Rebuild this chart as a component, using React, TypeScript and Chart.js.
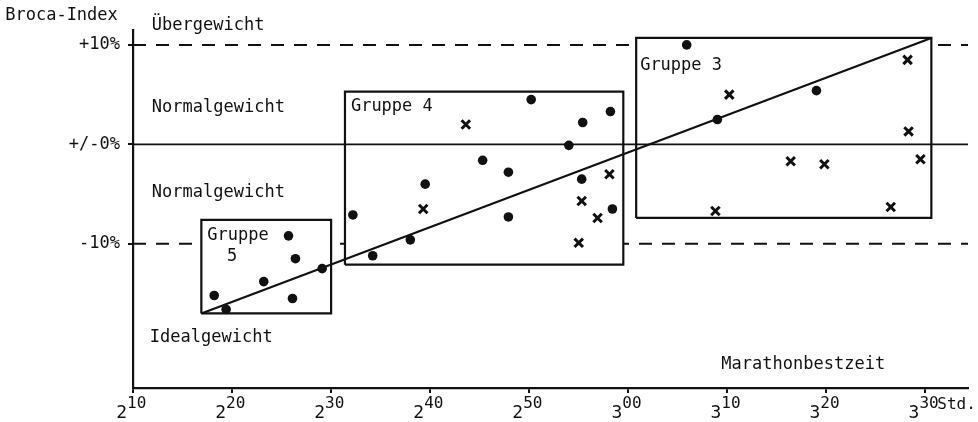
import React, { useEffect, useRef } from "react";
import { Chart, registerables } from "chart.js";

Chart.register(...registerables);

// ---- axis ticks ----
const xTickValues = [130, 140, 150, 160, 170, 180, 190, 200, 210]; // minutes
const xTickBase = ["2", "2", "2", "2", "2", "3", "3", "3", "3"];
const xTickSup = ["10", "20", "30", "40", "50", "00", "10", "20", "30"];
const yTickValues = [-10, 0, 10];
const yTickLabels = ["-10%", "+/-0%", "+10%"];

// ---- data: marathon best time (minutes) vs Broca index (%) ----
const circleTimes = [
  145.7, 146.4, 149.1, 143.2, 138.2, 146.1, 139.4,
  170.2, 178.2, 175.4, 174.0, 165.3, 167.9, 175.3, 159.5, 152.2, 167.9, 178.4, 158.0, 154.2,
  185.9, 199.0, 189.0,
];
const circleIndex = [
  -9.2, -11.5, -12.5, -13.8, -15.2, -15.5, -16.6,
  4.5, 3.3, 2.2, -0.1, -1.6, -2.8, -3.5, -4.0, -7.1, -7.3, -6.5, -9.6, -11.2,
  10.0, 5.4, 2.5,
];
const crossTimes = [163.6, 159.3, 178.1, 175.3, 176.9, 175.0, 190.2, 208.2, 208.3, 196.4, 199.8, 209.5, 188.8, 206.5];
const crossIndex = [2.0, -6.5, -3.0, -5.7, -7.4, -9.9, 5.0, 8.5, 1.3, -1.7, -2.0, -1.5, -6.7, -6.3];

// ---- groups (boxes) ----
const groupTimeFrom = [136.9, 151.4, 180.8];
const groupTimeTo = [150.0, 179.5, 210.6];
const groupIndexLow = [-17.0, -12.1, -7.4];
const groupIndexHigh = [-7.6, 5.3, 10.7];

// ---- regression line ----
const regressionTimes = [136.9, 210.6];
const regressionIndex = [-17.0, 10.7];

// ---- reference lines ----
const dashedLevels = [10, -10];
const zeroLevel = 0;

// ---- scale range ----
const xMin = 130;
const xMax = 214.3;
const yMin = -24.5;
const yMax = 11.5;

// ---- annotation texts (anchored in data units: left x, middle y) ----
const noteTexts = ["Broca-Index", "Übergewicht", "Normalgewicht", "Normalgewicht", "Idealgewicht", "Gruppe 4", "Gruppe 3", "Gruppe", "5", "Marathonbestzeit", "Std."];
const noteX = [117.1, 131.9, 131.9, 131.9, 131.7, 152.0, 181.2, 137.5, 139.5, 189.4, 211.2];
const noteY = [12.9, 11.9, 3.66, -4.8, -19.4, 3.76, 7.9, -9.2, -11.3, -22.15, -26.2];
const noteSize = [17, 17, 17, 17, 17, 17, 17, 17, 17, 17, 16];

const FONT = '"DejaVu Sans Mono", "Liberation Mono", monospace';
const INK = "#111";

export default function App() {
  const ref = useRef<HTMLCanvasElement | null>(null);

  useEffect(() => {
    if (!ref.current) return;
    const pts = (xs: number[], ys: number[]) => xs.map((x, i) => ({ x, y: ys[i] }));

    const boxes = groupTimeFrom.map((_, i) => ({
      type: "scatter" as const,
      data: [
        { x: groupTimeFrom[i], y: groupIndexLow[i] },
        { x: groupTimeFrom[i], y: groupIndexHigh[i] },
        { x: groupTimeTo[i], y: groupIndexHigh[i] },
        { x: groupTimeTo[i], y: groupIndexLow[i] },
        { x: groupTimeFrom[i], y: groupIndexLow[i] },
      ],
      showLine: true,
      fill: "shape",
      backgroundColor: "#ffffff",
      borderColor: INK,
      borderWidth: 2.2,
      pointRadius: 0,
      order: 3,
    }));

    const dashed = dashedLevels.map((lv) => ({
      type: "scatter" as const,
      data: [
        { x: xMin, y: lv },
        { x: xMax, y: lv },
      ],
      showLine: true,
      borderColor: INK,
      borderWidth: 2,
      borderDash: [13, 10],
      pointRadius: 0,
      order: 4,
    }));

    const textPlugin = {
      id: "texts",
      afterDraw(chart: any) {
        const ctx = chart.ctx as CanvasRenderingContext2D;
        const xs = chart.scales.x;
        const ys = chart.scales.y;
        ctx.save();
        ctx.fillStyle = INK;
        ctx.textBaseline = "middle";
        ctx.textAlign = "left";
        noteTexts.forEach((t, i) => {
          ctx.font = `${noteSize[i]}px ${FONT}`;
          ctx.fillText(t, xs.getPixelForValue(noteX[i]), ys.getPixelForValue(noteY[i]));
        });
        // x tick labels: base digit with superscript minutes
        const axisY = ys.getPixelForValue(yMin);
        ctx.textBaseline = "alphabetic";
        xTickValues.forEach((v, i) => {
          const px = xs.getPixelForValue(v);
          ctx.font = `18px ${FONT}`;
          ctx.textAlign = "right";
          ctx.fillText(xTickBase[i], px - 6, axisY + 30);
          ctx.font = `16px ${FONT}`;
          ctx.textAlign = "left";
          ctx.fillText(xTickSup[i], px - 6, axisY + 20);
        });
        ctx.restore();
      },
    };

    const chart = new Chart(ref.current, {
      type: "scatter",
      data: {
        datasets: [
          {
            data: pts(circleTimes, circleIndex),
            pointStyle: "circle",
            pointRadius: 4.8,
            backgroundColor: INK,
            borderColor: INK,
            borderWidth: 0,
            order: 0,
          },
          {
            data: pts(crossTimes, crossIndex),
            pointStyle: "crossRot",
            pointRadius: 6,
            borderColor: INK,
            borderWidth: 3,
            order: 0,
          },
          {
            data: pts(regressionTimes, regressionIndex),
            showLine: true,
            borderColor: INK,
            borderWidth: 2.2,
            pointRadius: 0,
            order: 1,
          },
          {
            data: [
              { x: xMin, y: zeroLevel },
              { x: xMax, y: zeroLevel },
            ],
            showLine: true,
            borderColor: INK,
            borderWidth: 1.8,
            pointRadius: 0,
            order: 2,
          },
          ...boxes,
          ...dashed,
        ] as any,
      },
      options: {
        animation: false,
        responsive: true,
        maintainAspectRatio: false,
        devicePixelRatio: 1,
        layout: { padding: { top: 30, right: 10, left: 0, bottom: 0 } },
        plugins: {
          legend: { display: false },
          tooltip: { enabled: false },
          title: { display: false },
          filler: { drawTime: "beforeDatasetDraw" },
        } as any,
        scales: {
          x: {
            type: "linear",
            min: xMin,
            max: xMax,
            afterBuildTicks: (s: any) => {
              s.ticks = xTickValues.map((v) => ({ value: v }));
            },
            afterFit: (s: any) => {
              s.height = 34;
            },
            ticks: { display: false },
            grid: { drawOnChartArea: false, drawTicks: true, tickLength: 5, color: INK, lineWidth: 2 },
            border: { display: true, color: INK, width: 2.2 },
          },
          y: {
            type: "linear",
            min: yMin,
            max: yMax,
            afterBuildTicks: (s: any) => {
              s.ticks = yTickValues.map((v) => ({ value: v }));
            },
            afterFit: (s: any) => {
              s.width = 133;
            },
            ticks: {
              padding: 8,
              color: INK,
              font: { family: FONT, size: 17 },
              callback: (v: any) => {
                const k = yTickValues.indexOf(Number(v));
                return k >= 0 ? yTickLabels[k] : "";
              },
            },
            grid: { drawOnChartArea: false, drawTicks: true, tickLength: 5, color: INK, lineWidth: 2 },
            border: { display: true, color: INK, width: 2.2 },
          },
        },
      } as any,
      plugins: [textPlugin],
    });
    return () => chart.destroy();
  }, []);

  return (
    <div style={{ position: "absolute", left: 0, top: 0, width: 978, height: 422, background: "#fff" }}>
      <canvas ref={ref} />
    </div>
  );
}
